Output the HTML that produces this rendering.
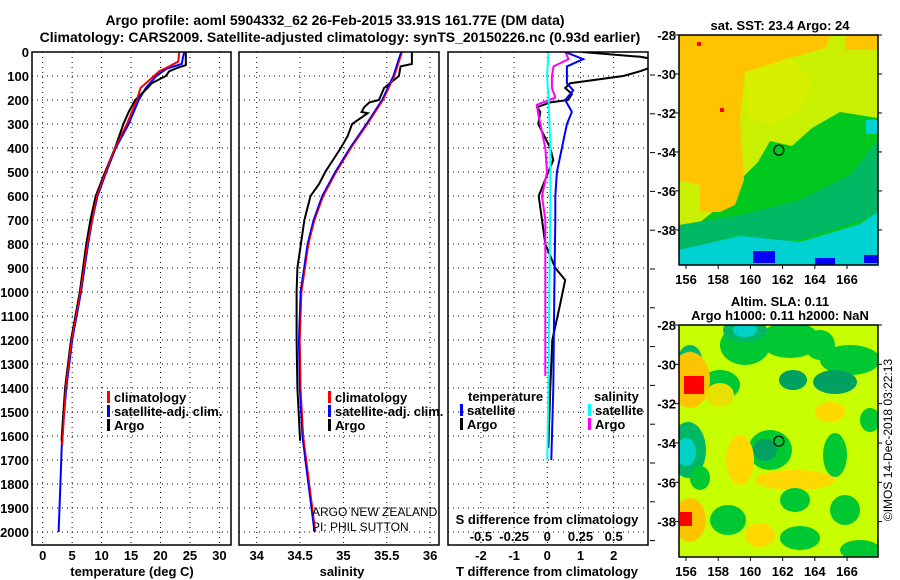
<!DOCTYPE html>
<html><head><meta charset="utf-8"><style>
body{margin:0;background:#fff;}
svg{display:block;font-family:"Liberation Sans",sans-serif;}
.b{font-weight:bold;font-size:13px;}
.t{font-weight:bold;font-size:14px;}
</style></head><body>
<svg id="chart" width="900" height="580" viewBox="0 0 900 580">
<text class="t" x="335" y="25" text-anchor="middle">Argo profile: aoml 5904332_62 26-Feb-2015 33.91S 161.77E (DM data)</text>
<text class="t" x="340" y="42" text-anchor="middle">Climatology: CARS2009. Satellite-adjusted climatology: synTS_20150226.nc (0.93d earlier)</text>
<g id="g1"></g>
<g id="g2"></g>
<g id="g3"></g>
<g id="m1"></g>
<g id="m2"></g>
<text x="312" y="516" font-size="12">ARGO NEW ZEALAND</text>
<text x="312" y="531" font-size="12">PI: PHIL SUTTON</text>
<text x="892" y="440" font-size="12" text-anchor="middle" transform="rotate(-90 892 440)">©IMOS 14-Dec-2018 03:22:13</text>
</svg>
<script>
const NS="http://www.w3.org/2000/svg";
// ---- data ----
const depthTicks=[0,100,200,300,400,500,600,700,800,900,1000,1100,1200,1300,1400,1500,1600,1700,1800,1900,2000];
const tempTicks=[0,5,10,15,20,25,30];
const salTicks=[34,34.5,35,35.5,36];
const salTickLabels=["34","34.5","35","35.5","36"];
const dTTicks=[-2,-1,0,1,2];
const dSTicks=[-0.5,-0.25,0,0.25,0.5];
const dSTickLabels=["-0.5","-0.25","0","0.25","0.5"];

const argoTDepth=[0,55,65,80,100,130,150,200,250,300,400,500,600,700,800,1000,1200,1400,1620];
const argoT=[24.3,24.3,23.0,21.5,20.9,18.5,17.8,15.7,14.6,13.7,12.3,10.6,9.0,8.1,7.4,6.3,4.8,3.8,3.2];
const climTDepth=[0,40,60,80,100,150,200,300,400,500,600,700,800,1000,1200,1400,1640];
const climT=[23.2,23.0,21.5,19.8,18.9,16.6,16.0,14.3,12.3,10.7,9.2,8.4,7.6,6.4,4.9,3.9,3.3];
const satTDepth=[0,50,70,100,150,200,300,400,500,600,700,800,1000,1200,1400,1600,1800,2000];
const satT=[24.0,23.6,21.0,19.3,17.5,16.3,14.6,12.4,10.8,9.3,8.4,7.7,6.5,5.0,4.0,3.3,3.0,2.7];

const argoSDepth=[0,50,60,100,150,200,210,230,250,255,300,350,400,500,550,600,700,800,900,1000,1200,1400,1620];
const argoS=[35.79,35.79,35.66,35.64,35.47,35.41,35.30,35.24,35.21,35.28,35.10,35.05,34.97,34.79,34.72,34.62,34.55,34.51,34.47,34.46,34.46,34.47,34.50];
const climSDepth=[0,100,200,300,400,500,600,700,800,900,1000,1200,1400,1600,1800,2000];
const climS=[35.68,35.59,35.46,35.28,35.09,34.92,34.77,34.67,34.60,34.56,34.52,34.50,34.51,34.54,34.61,34.68];
const satSDepth=[0,100,200,300,400,500,600,700,800,900,1000,1200,1400,1600,1800,2000];
const satS=[35.67,35.58,35.45,35.27,35.08,34.91,34.76,34.66,34.59,34.55,34.51,34.49,34.50,34.53,34.60,34.67];

const argoDTDepth=[0,20,30,45,60,80,100,130,150,175,200,210,230,250,300,400,450,500,600,700,800,900,950,1050,1200,1400,1650];
const argoDT=[1.05,2.8,3.2,3.2,3.2,2.8,2.29,0.69,0.54,0.74,0.63,0.09,-0.31,-0.21,-0.27,0.09,0.18,0.03,-0.26,-0.16,-0.06,0.24,0.54,0.39,0.15,0.09,0.03];
const satDTDepth=[0,30,60,130,160,200,250,300,400,500,600,700,1000,1400,1700];
const satDT=[0.54,1.08,0.59,0.59,0.78,0.54,0.74,0.59,0.44,0.29,0.24,0.24,0.21,0.18,0.12];
const argoDSDepth=[0,30,60,100,150,190,220,260,300,400,500,600,700,1000,1350];
const argoDS=[0.136,0.16,0.047,0.035,0.035,0.06,-0.078,-0.068,-0.053,-0.015,-0.002,-0.04,-0.015,-0.015,-0.015];
const satDSDepth=[0,100,200,400,600,1000,1400,1700];
const satDS=[0.01,-0.002,0.01,0.023,0.023,0.015,0.008,0.0];

const lonTicks=[156,158,160,162,164,166];
const latTicks=[-28,-30,-32,-34,-36,-38];
const argoLon=161.77, argoLat=-33.91;

// ---- axes ----
const yD=d=>52+d*0.24;
const xT=t=>42.7+t*5.89;
const xS=s=>256.7+(s-34)*86.7;
const xDT=v=>547.3+v*33.2;
const xDS=v=>547.3+v*132.8;

function el(tag,attrs,parent){const e=document.createElementNS(NS,tag);for(const k in attrs)e.setAttribute(k,attrs[k]);parent.appendChild(e);return e;}
function txt(parent,x,y,s,cls,anchor){const e=el('text',{x:x,y:y,class:cls||'b','text-anchor':anchor||'middle'},parent);e.textContent=s;return e;}

function panel(g,x0,x1,id){
  const top=yD(0), bot=545;
  el('clipPath',{id:id},g);
  el('rect',{x:x0,y:top,width:x1-x0,height:bot-top},g.lastChild);
  depthTicks.forEach(d=>{
    const l=el('line',{x1:x0,x2:x1,y1:yD(d),y2:yD(d),stroke:'#000','stroke-width':1,'stroke-dasharray':'1,4'},g);
    
    
  });
  return {top,bot};
}
function frame(g,x0,x1){
  const f=el('rect',{x:x0,y:yD(0),width:x1-x0,height:545-yD(0),fill:'none',stroke:'#000','stroke-width':1.5},g);
  
  
}
function vgrid(g,xs,fx){
  xs.forEach(v=>{
    const l=el('line',{x1:fx(v),x2:fx(v),y1:yD(0),y2:545,stroke:'#000','stroke-width':1,'stroke-dasharray':'1,4'},g);
    
    
  });
}
function line(g,depths,vals,fx,color,w,clip,name){
  const pts=depths.map((d,i)=>fx(vals[i]).toFixed(1)+','+yD(d).toFixed(1)).join(' ');
  const p=el('polyline',{points:pts,fill:'none',stroke:color,'stroke-width':w,'clip-path':'url(#'+clip+')'},g);
  
  
}
function legend(g,x,y,color,label,name){
  const r=el('rect',{x:x,y:y-11,width:3,height:12,fill:color},g);
  
  
  const t=txt(g,x+7,y,label,'b','start');
  
  
}

// panel 1
const g1=document.getElementById('g1');
panel(g1,32,231,'c1');vgrid(g1,tempTicks,xT);
line(g1,climTDepth,climT,xT,'#f00',2,'c1','climatology-temp-line');
line(g1,satTDepth,satT,xT,'#00f',2,'c1','satellite-temp-line');
line(g1,argoTDepth,argoT,xT,'#000',2,'c1','argo-temp-line');
line(g1,climTDepth,climT,xT,'#f00',1.5,'c1','climatology-temp-line-top');
frame(g1,32,231);
depthTicks.forEach(d=>{const t=txt(g1,29,yD(d)+5,String(d),'b','end');});
tempTicks.forEach(v=>{const t=txt(g1,xT(v),560,String(v));});
{const t=txt(g1,132,576,'temperature (deg C)');}
legend(g1,107,402,'#f00','climatology','legend-climatology');
legend(g1,107,416,'#00f','satellite-adj. clim.','legend-satellite');
legend(g1,107,430,'#000','Argo','legend-argo');

// panel 2
const g2=document.getElementById('g2');
panel(g2,239,439,'c2');vgrid(g2,salTicks,xS);
line(g2,argoSDepth,argoS,xS,'#000',2,'c2','argo-salinity-line');
line(g2,satSDepth,satS,xS,'#00f',2.5,'c2','satellite-salinity-line');
line(g2,climSDepth,climS,xS,'#f00',1.2,'c2','climatology-salinity-line');
frame(g2,239,439);
salTicks.forEach((v,i)=>{const t=txt(g2,xS(v),560,salTickLabels[i]);});
{const t=txt(g2,342,576,'salinity');}
legend(g2,328,402,'#f00','climatology','legend-climatology-s');
legend(g2,328,416,'#00f','satellite-adj. clim.','legend-satellite-s');
legend(g2,328,430,'#000','Argo','legend-argo-s');

// panel 3
const g3=document.getElementById('g3');
panel(g3,448,648,'c3');vgrid(g3,dTTicks,xDT);
line(g3,argoDTDepth,argoDT,xDT,'#000',2,'c3','argo-temp-diff-line');
line(g3,argoDSDepth,argoDS,xDS,'#f0f',2,'c3','argo-sal-diff-line');
line(g3,satDTDepth,satDT,xDT,'#00f',2,'c3','satellite-temp-diff-line');
line(g3,satDSDepth,satDS,xDS,'#0ff',2,'c3','satellite-sal-diff-line');
frame(g3,448,648);
for(let y=75;y<545;y+=38.8){el('line',{x1:650,x2:655,y1:y,y2:y,stroke:'#000'},g3);}
dTTicks.forEach(v=>{const t=txt(g3,xDT(v),560,String(v));});
dSTicks.forEach((v,i)=>{const t=txt(g3,xDS(v),541,dSTickLabels[i]);});
{const t=txt(g3,547,524,'S difference from climatology');}
{const t=txt(g3,547,576,'T difference from climatology');}
{const t=txt(g3,468,401,'temperature','b','start');}
{const t=txt(g3,594,401,'salinity','b','start');}
legend(g3,460,415,'#00f','satellite','legend-t-satellite');
legend(g3,460,429,'#000','Argo','legend-t-argo');
legend(g3,588,415,'#0ff','satellite','legend-s-satellite');
legend(g3,588,429,'#f0f','Argo','legend-s-argo');

// maps
function map(g,top,bot,id,shapes,title){
  const x0=679,x1=878;
  const xL=l=>686+(l-156)*16.1, yL=la=>top+(-28-la)*(bot-top)/11.8;
  el('clipPath',{id:id},g);el('rect',{x:x0,y:top,width:x1-x0,height:bot-top},g.lastChild);
  const inner=el('g',{'clip-path':'url(#'+id+')'},g);
  shapes(inner);
  el('rect',{x:x0,y:top,width:x1-x0,height:bot-top,fill:'none',stroke:'#000','stroke-width':1.5},g);
  lonTicks.forEach(l=>{el('line',{x1:xL(l),x2:xL(l),y1:bot,y2:bot+4,stroke:'#000'},g);const t=txt(g,xL(l),bot+19,String(l));});
  latTicks.forEach(l=>{el('line',{x1:x0-4,x2:x0,y1:yL(l),y2:yL(l),stroke:'#000'},g);el('line',{x1:x1,x2:x1+4,y1:yL(l),y2:yL(l),stroke:'#000'},g);const t=txt(g,x0-3,yL(l)+5,String(l),'b','end');});
  const c=el('circle',{cx:xL(argoLon),cy:yL(argoLat),r:5,fill:'none',stroke:'#000','stroke-width':1.2},g);
  
  
  title.forEach((s,i)=>{const t=txt(g,780,top-(title.length-i)*14+9,s);});
}
map(document.getElementById('m1'),35,265,'cm1',g=>{
  el('rect',{x:679,y:35,width:200,height:230,fill:'#00c81e'},g);
  el('polygon',{points:'679,35 878,35 878,118 840,112 812,128 792,146 770,141 758,162 740,180 722,205 700,222 679,225',fill:'#c8f000'},g);
  el('polygon',{points:'679,35 830,35 826,48 790,58 745,72 740,120 744,180 735,205 720,212 679,212',fill:'#ffc400'},g);
  el('rect',{x:845,y:35,width:33,height:15,fill:'#ffc400'},g);
  el('polygon',{points:'745,72 790,58 812,80 800,110 770,125 748,118',fill:'#d8f000'},g);
  el('polygon',{points:'679,180 700,185 700,225 679,225',fill:'#c8f000'},g);
  el('polygon',{points:'679,225 740,215 800,200 850,175 878,140 878,215 800,240 679,250',fill:'#00b864'},g);
  el('polygon',{points:'679,250 740,236 800,242 860,224 878,212 878,265 679,265',fill:'#00d2d2'},g);
  el('rect',{x:866,y:120,width:12,height:14,fill:'#00d2d2'},g);
  el('rect',{x:753,y:251,width:22,height:12,fill:'#0000ff'},g);
  el('rect',{x:864,y:255,width:14,height:8,fill:'#0000ff'},g);
  el('rect',{x:815,y:258,width:20,height:7,fill:'#0000ff'},g);
  el('rect',{x:697,y:42,width:4,height:4,fill:'#f00'},g);
  el('rect',{x:720,y:108,width:4,height:4,fill:'#f00'},g);
},['sat. SST: 23.4 Argo: 24']);
map(document.getElementById('m2'),325,557,'cm2',g=>{
  el('rect',{x:679,y:325,width:200,height:232,fill:'#c8ff00'},g);
  const e=(cx,cy,rx,ry,f)=>el('ellipse',{cx:cx,cy:cy,rx:rx,ry:ry,fill:f},g);
  e(745,345,25,20,'#00c832');e(790,340,30,18,'#00c832');e(850,360,30,15,'#00c832');e(820,345,15,15,'#00c832');
  e(770,450,22,20,'#00c832');e(765,450,12,11,'#00a060');e(835,382,22,12,'#00a060');e(793,380,14,10,'#00a060');
  e(720,385,20,15,'#00c832');e(688,450,18,28,'#00b864');e(686,452,10,14,'#00d2c8');
  e(690,360,12,15,'#00b864');e(690,360,7,9,'#00d2c8');e(745,330,22,12,'#00b864');e(745,330,12,7,'#00d2c8');
  e(690,380,20,28,'#ffc400');el('rect',{x:684,y:376,width:20,height:18,fill:'#f00'},g);
  e(690,520,16,22,'#ffc400');el('rect',{x:680,y:512,width:12,height:14,fill:'#f00'},g);
  e(740,460,14,25,'#ffd800');e(795,480,40,10,'#ffd800');e(720,395,14,12,'#e8e000');
  e(835,455,12,22,'#00c832');e(728,520,18,15,'#00c832');e(800,538,20,12,'#00c832');e(845,510,15,15,'#00c832');
  e(795,500,15,12,'#00c832');e(700,478,10,12,'#00c832');e(860,550,20,10,'#00c832');e(870,420,10,12,'#00c832');
  e(830,412,15,10,'#ffd800');e(760,535,15,12,'#ffd800');
},['Altim. SLA: 0.11','Argo h1000: 0.11 h2000: NaN']);
</script>
</body></html>
